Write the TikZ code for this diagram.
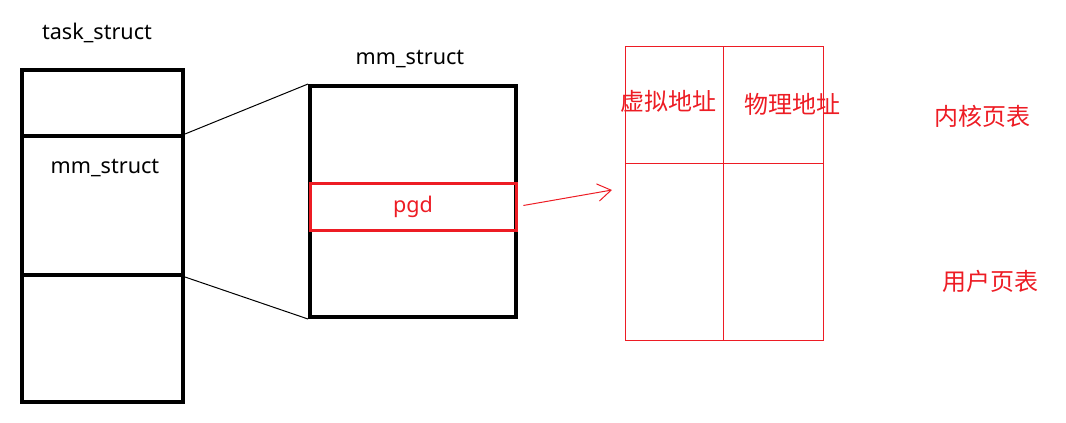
\documentclass[tikz,border=0pt]{standalone}
\usepackage{fontspec}
\setmainfont{Noto Sans}
\newfontfamily\cjk{Noto Sans CJK SC}
\usetikzlibrary{arrows.meta,positioning}
\definecolor{paintred}{RGB}{237,28,36}

\begin{document}
\begin{tikzpicture}[
    x=0.75pt, y=-0.75pt,
    font=\fontsize{16.2}{19}\selectfont,
    field/.style={rectangle, draw=black, line width=3pt, minimum width=120.75pt, inner sep=0pt},
    mmbox/.style={rectangle, draw=black, line width=3pt, minimum width=154.5pt, minimum height=173.25pt, inner sep=0pt},
    slot/.style={rectangle, draw=paintred, line width=2.25pt, minimum width=154.5pt, minimum height=35.25pt, inner sep=0pt, text=paintred},
    cell/.style={rectangle, draw=paintred, line width=0.75pt, inner sep=0pt},
    tag/.style={font=\cjk\fontsize{18}{20}\selectfont, text=paintred},
    link/.style={black, line width=0.75pt},
    ptr/.style={-{Straight Barb[length=10pt,width=13pt]}, paintred, line width=0.75pt}
]
    \useasboundingbox (0,0) rectangle (1066,422);

    % task_struct
    \node[field, minimum height=49.5pt] (ts-top) at (102.5,103) {};
    \node[field, minimum height=104.25pt] (ts-mm) at (102.5,205.5) {};
    \node[field, minimum height=95.25pt] (ts-bot) at (102.5,338.5) {};
    \node (ts-title) at (97,33) {task\_struct};
    \node (ts-mm-text) at (105,168) {mm\_struct};

    % mm_struct
    \node[mmbox] (mm) at (413,201.5) {};
    \node (mm-title) at (410,59) {mm\_struct};
    \node[slot] (pgd) at (413,206.5) {pgd};

    \draw[link] (ts-mm.north east) -- (mm.north west);
    \draw[link] (ts-mm.south east) -- (mm.south west);

    % page table
    \node[cell, minimum width=73.5pt, minimum height=87.75pt] (va-k) at (674,104.5) {};
    \node[cell, minimum width=75pt, minimum height=87.75pt] (pa-k) at (773,104.5) {};
    \node[cell, minimum width=73.5pt, minimum height=132.75pt] (va-u) at (674,251.5) {};
    \node[cell, minimum width=75pt, minimum height=132.75pt] (pa-u) at (773,251.5) {};
    \node[tag] (va-text) at (668,101) {虚拟地址};
    \node[tag] (pa-text) at (792,104) {物理地址};
    \node[tag] (kernel) at (982,116) {内核页表};
    \node[tag] (user) at (990,281) {用户页表};

    \coordinate (tbl-in) at (612,190);
    \draw[ptr, shorten <=4.5pt] (pgd.east) -- (tbl-in);
\end{tikzpicture}
\end{document}
